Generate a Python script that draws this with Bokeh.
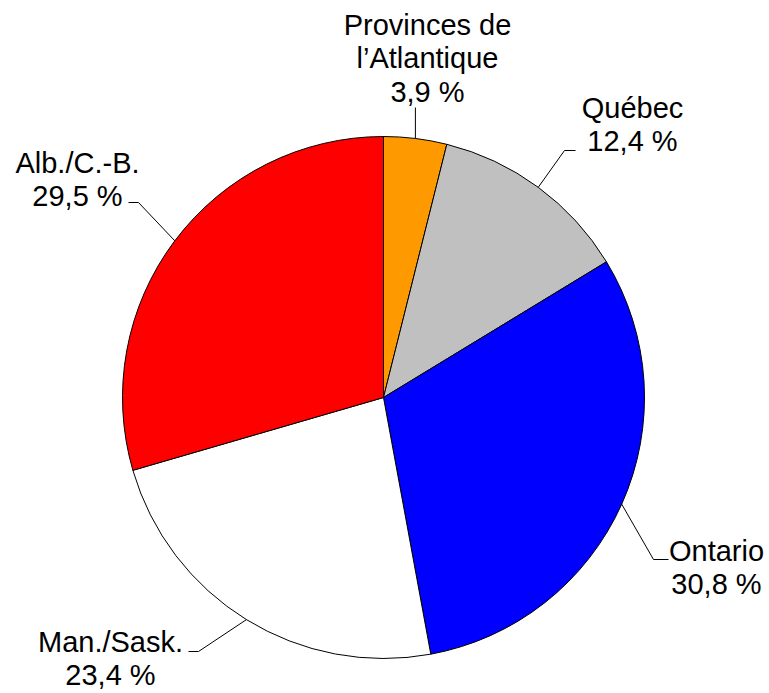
import numpy as np
from bokeh.plotting import figure
from bokeh.models import Range1d, ColumnDataSource
from bokeh.core.properties import value
from bokeh.embed import file_html
from bokeh.resources import INLINE

# ---- data ----
regions = ["Provinces de l’Atlantique", "Québec", "Ontario", "Man./Sask.", "Alb./C.-B."]
label_lines = [["Provinces de", "l’Atlantique"], ["Québec"], ["Ontario"], ["Man./Sask."], ["Alb./C.-B."]]
shares = [3.9, 12.4, 30.8, 23.4, 29.5]
pct_labels = ["3,9 %", "12,4 %", "30,8 %", "23,4 %", "29,5 %"]
colors = ["#FF9900", "#C0C0C0", "#0000FF", "#FFFFFF", "#FF0000"]

# ---- layout (page pixel coordinates, y downward) ----
W, H = 769, 693
cx, cy, R = 383, 397, 261
FONT = value("Liberation Sans")
FS = "29px"
TEXT_SHIFT = -9

# label anchor: text centre x, first baseline y
label_x = [427, 632, 716, 110, 77]
label_y0 = [33, 116, 559, 650, 171]
line_gap = 33.5
# leader routes after the edge point (elbow, end)
leader_rest = [
    [(None, 107)],
    [(564, 150), (575, 150)],
    [(653, 559), (668, 559)],
    [(198, 651), (188, 651)],
    [(138, 202), (128, 202)],
]

def fy(y):
    return H - y

p = figure(width=W, height=H, output_backend="svg", toolbar_location=None,
           x_range=Range1d(0, W), y_range=Range1d(0, H),
           min_border=0, outline_line_color=None)
p.axis.visible = False
p.grid.visible = False
p.background_fill_color = "white"
p.border_fill_color = "white"

frac = np.array(shares) / sum(shares)
cum = np.concatenate([[0], np.cumsum(frac)])
start = np.pi / 2 - cum[:-1] * 2 * np.pi
end = np.pi / 2 - cum[1:] * 2 * np.pi
src = ColumnDataSource(dict(start=start, end=end, color=colors, region=regions))
p.wedge(x=cx, y=fy(cy), radius=R, start_angle="start", end_angle="end",
        direction="clock", fill_color="color", line_color="black", line_width=1,
        source=src)

# leader lines from slice mid-angles
mid = np.pi / 2 - (cum[:-1] + frac / 2) * 2 * np.pi
xs, ys = [], []
for i in range(len(shares)):
    ex = cx + R * np.cos(mid[i])
    ey = cy - R * np.sin(mid[i])
    lx, ly = [ex], [fy(ey)]
    for (px, py) in leader_rest[i]:
        lx.append(ex if px is None else px)
        ly.append(fy(py))
    xs.append(lx)
    ys.append(ly)
p.multi_line(xs=xs, ys=ys, line_color="black", line_width=1)

# labels
tx, ty, tt = [], [], []
for i in range(len(shares)):
    lines = label_lines[i] + [pct_labels[i]]
    for k, t in enumerate(lines):
        tx.append(label_x[i])
        ty.append(fy(label_y0[i] + k * line_gap + TEXT_SHIFT))
        tt.append(t)
p.text(x=tx, y=ty, text=tt, text_font=FONT, text_font_size=FS,
       text_align="center", text_baseline="alphabetic", text_color="black")

open("out.html", "w").write(file_html(p, INLINE))
